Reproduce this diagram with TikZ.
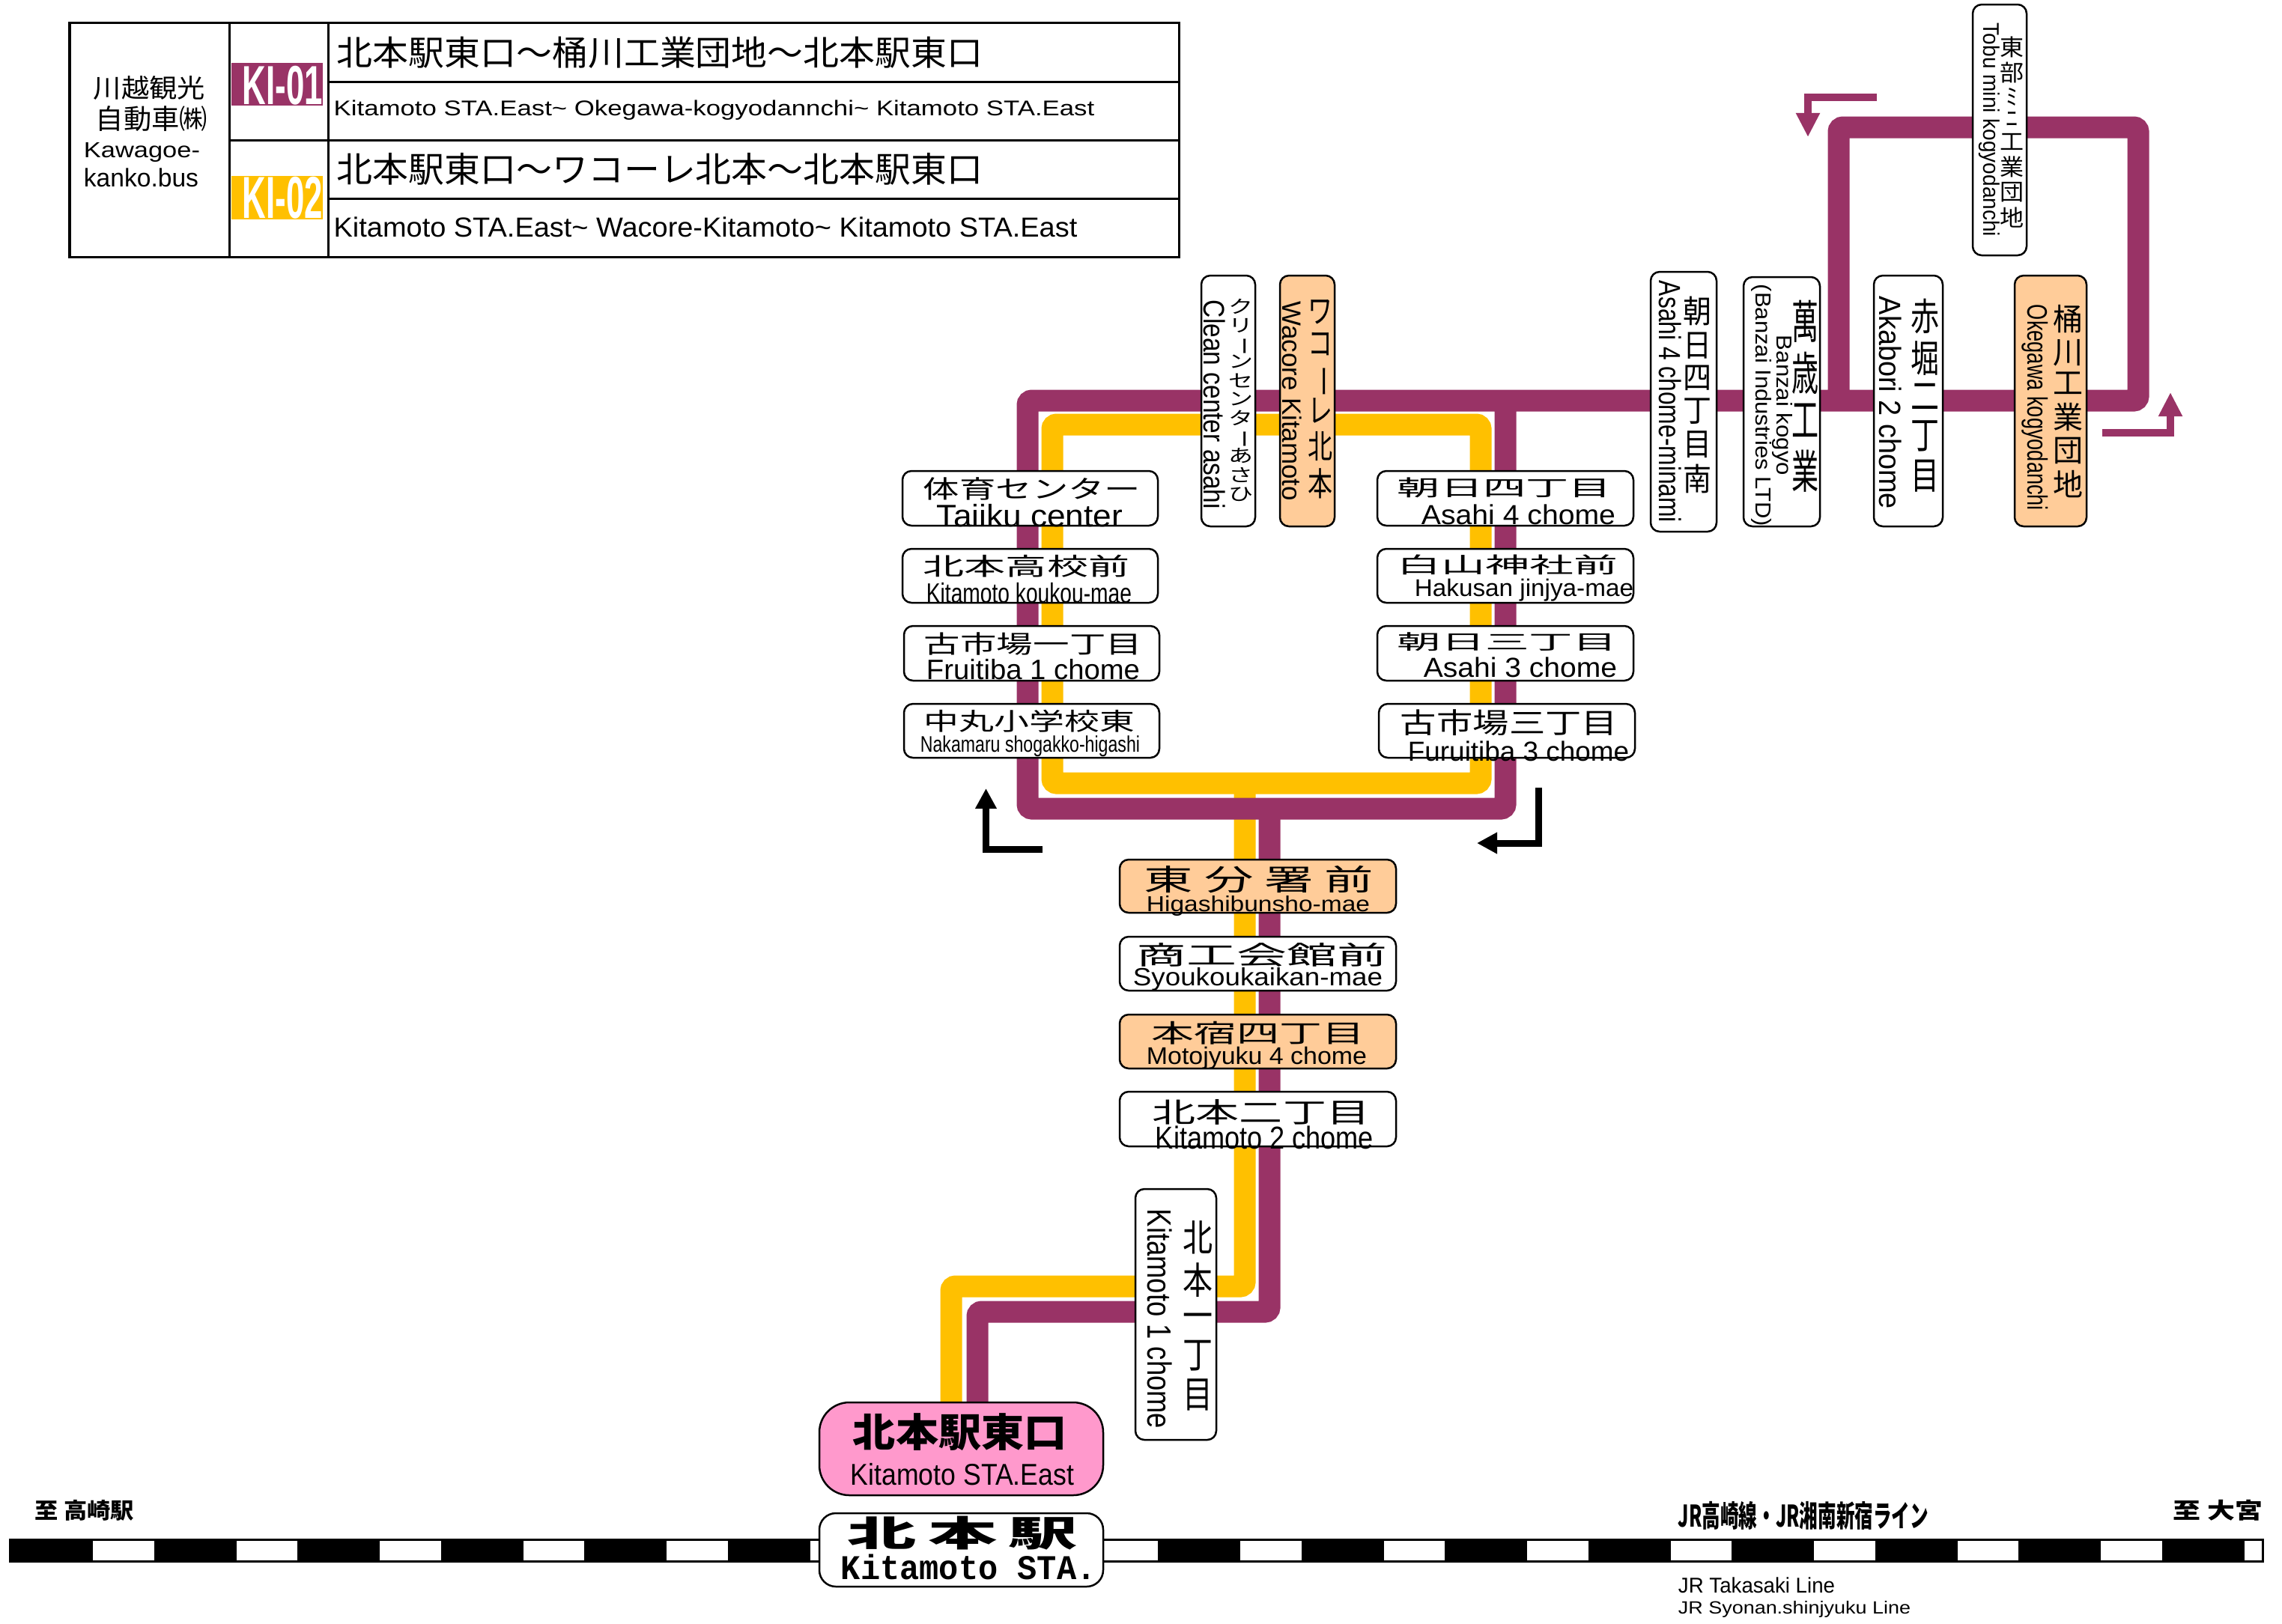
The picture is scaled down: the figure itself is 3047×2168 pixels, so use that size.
\documentclass[tikz,border=0pt]{standalone}
\usepackage{fontspec}
\usepackage{graphicx}
\setmainfont{Liberation Sans}
\newfontfamily\jpf{Noto Sans CJK JP}
\newfontfamily\monof{Liberation Mono}
\usetikzlibrary{arrows.meta}
\definecolor{kione}{HTML}{993366}
\definecolor{kitwo}{HTML}{FFC000}
\definecolor{peach}{HTML}{FFCC99}
\definecolor{stapink}{HTML}{FF99CC}
\newcommand{\pxu}{0.01cm}
\tikzset{wh/.style 2 args={minimum width=#1*\pxu,minimum height=#2*\pxu}}
\tikzstyle{stop} = [draw=black, line width=0.025cm, fill=white, rounded corners=0.12cm, inner sep=0pt]
\tikzstyle{stopmain} = [stop, fill=peach]
\tikzstyle{cell} = [draw=black, line width=0.03cm, inner sep=0pt]
\tikzstyle{fitted} = [inner sep=0pt, outer sep=0pt]
\tikzstyle{routeone} = [draw=kione, line width=0.29cm, rounded corners=0.06cm]
\tikzstyle{routetwo} = [draw=kitwo, line width=0.29cm, rounded corners=0.06cm]
\tikzstyle{arrowone} = [draw=kione, line width=0.1cm, -{Triangle[length=0.32cm,width=0.3cm]}]
\tikzstyle{arrowblk} = [draw=black, line width=0.09cm, -{Triangle[length=0.27cm,width=0.27cm]}]
% name, x from, x to, y from, y to, text
\newcommand{\fitlbl}[6]{%
  \pgfmathsetlengthmacro{\fitw}{(#3-#2)*0.284528pt}%
  \pgfmathsetlengthmacro{\fith}{(#5-#4)*0.284528pt}%
  \node[fitted] (#1) at ({(#2+#3)/2},{(#4+#5)/2}) {\resizebox*{\fitw}{\fith}{#6}};}
\newcommand{\vjp}[1]{{\jpf\renewcommand{\arraystretch}{0.8}\begin{tabular}{@{}c@{}}#1\end{tabular}}}
\newcommand{\vlat}[1]{\rotatebox{-90}{#1}}
\newcommand{\vbar}{\rotatebox[origin=c]{-90}{ー}}
\newcommand{\wave}{\textasciitilde}

\begin{document}
\begin{tikzpicture}[x=0.01cm,y=-0.01cm]
\useasboundingbox (0,0) rectangle (3047,2168);
% table
\node[cell,wh={213}{313}] (co) at (199.5,186.5) {};
\node[cell,wh={132}{157}] (kia) at (372,108.5) {};
\node[cell,wh={132}{156}] (kib) at (372,265) {};
\node[cell,wh={1136}{79}] (ra) at (1006,69.5) {};
\node[cell,wh={1136}{78}] (rb) at (1006,148) {};
\node[cell,wh={1136}{78}] (rc) at (1006,226) {};
\node[cell,wh={1136}{78}] (rd) at (1006,304) {};
\fill[kione] (309,84) rectangle (431,141);
\fill[kitwo] (309,235) rectangle (431,293);
\fitlbl{coa}{125}{274}{102}{134}{\jpf 川越観光}
\fitlbl{cob}{128}{277}{142}{176}{\jpf 自動車㈱}
\fitlbl{coc}{112}{267}{191}{217}{Kawagoe-}
\fitlbl{cod}{112}{265}{225}{250}{kanko.bus}
\fitlbl{kiatxt}{324}{431}{88}{140}{\color{white}\bfseries KI-01}
\fitlbl{kibtxt}{324}{431}{236}{292}{\color{white}\bfseries KI-02}
\fitlbl{ratxt}{450}{1312}{48.5}{91}{\jpf 北本駅東口～桶川工業団地～北本駅東口}
\fitlbl{rbtxt}{446}{1461}{134}{160.5}{Kitamoto STA.East\wave{} Okegawa-kogyodannchi\wave{} Kitamoto STA.East}
\fitlbl{rctxt}{450}{1312}{204}{247}{\jpf 北本駅東口～ワコーレ北本～北本駅東口}
\fitlbl{rdtxt}{446}{1438}{290}{317}{Kitamoto STA.East\wave{} Wacore-Kitamoto\wave{} Kitamoto STA.East}
% track
\draw[line width=0.03cm] (14,2056) rectangle (3021,2085);
\foreach \k in {0,...,15}
  \fill ({14+191.5*\k},2056) rectangle ({124+191.5*\k},2085);
% bends of the routes
\coordinate (ya) at (1270,1873);
\coordinate (yb) at (1270,1718);
\coordinate (yc) at (1662,1718);
\coordinate (yd) at (1662,1046);
\coordinate (ye) at (1405,1046);
\coordinate (yf) at (1405,567);
\coordinate (yg) at (1977,567);
\coordinate (yh) at (1977,1046);
\coordinate (pa) at (1305,1873);
\coordinate (pb) at (1305,1752);
\coordinate (pc) at (1695,1752);
\coordinate (pd) at (1695,1080);
\coordinate (pe) at (1372,1080);
\coordinate (pf) at (1372,535);
\coordinate (pg) at (2855,535);
\coordinate (ph) at (2855,170);
\coordinate (pi) at (2455,170);
\coordinate (pj) at (2455,535);
\coordinate (pk) at (2010,1080);
\coordinate (pl) at (2010,535);
\draw[routetwo] (ya) -- (yb) -- (yc) -- (yd);
\draw[routetwo] (yd) -- (ye) -- (yf) -- (yg) -- (yh) -- (yd);
\draw[routeone] (pa) -- (pb) -- (pc) -- (pd);
\draw[routeone] (pl) -- (pk) -- (pe) -- (pf) -- (pg) -- (ph) -- (pi) -- (pj);
% arrows
\coordinate (aa) at (2506,130);
\coordinate (ab) at (2414,130);
\coordinate (ac) at (2414,183);
\coordinate (ad) at (2807,578);
\coordinate (ae) at (2898,578);
\coordinate (af) at (2898,524);
\coordinate (ag) at (1392,1134.5);
\coordinate (ah) at (1316.5,1134.5);
\coordinate (ai) at (1316.5,1053);
\coordinate (aj) at (2054,1052);
\coordinate (ak) at (2054,1126);
\coordinate (al) at (1972,1126);
\draw[arrowone] (aa) -- (ab) -- (ac);
\draw[arrowone] (ad) -- (ae) -- (af);
\draw[arrowblk] (ag) -- (ah) -- (ai);
\draw[arrowblk] (aj) -- (ak) -- (al);
% left column
\node[stop,wh={341}{73}] (taiiku) at (1375.5,665.5) {};
\node[stop,wh={341}{72}] (koukou) at (1375.5,769) {};
\node[stop,wh={341}{73}] (fruione) at (1377.5,872.5) {};
\node[stop,wh={341}{72}] (nakamaru) at (1377.5,976) {};
\fitlbl{taiikuj}{1233}{1523}{637.5}{668}{\jpf 体育センター}
\fitlbl{taiikul}{1251}{1499}{673.5}{704}{Taiiku center}
\fitlbl{koukouj}{1233}{1508}{741}{771}{\jpf 北本高校前}
\fitlbl{koukoul}{1237}{1511}{778}{805.5}{Kitamoto koukou-mae}
\fitlbl{fruionej}{1234}{1525}{845}{875.5}{\jpf 古市場一丁目}
\fitlbl{fruionel}{1237}{1522}{880.5}{908}{Fruitiba 1 chome}
\fitlbl{nakamaruj}{1234}{1515}{948}{978}{\jpf 中丸小学校東}
\fitlbl{nakamarul}{1229}{1522}{983}{1011}{Nakamaru shogakko-higashi}
% right column
\node[stop,wh={342}{73}] (asafour) at (2010,665.5) {};
\node[stop,wh={342}{72}] (hakusan) at (2010,769) {};
\node[stop,wh={342}{73}] (asathree) at (2010,872.5) {};
\node[stop,wh={342}{72}] (furuthree) at (2012,976) {};
\fitlbl{asafourj}{1866}{2152}{638}{665}{\jpf 朝日四丁目}
\fitlbl{asafourl}{1898}{2157}{673.5}{700.5}{Asahi 4 chome}
\fitlbl{hakusanj}{1866}{2160}{741}{768}{\jpf 白山神社前}
\fitlbl{hakusanl}{1889}{2181}{773}{803}{Hakusan jinjya-mae}
\fitlbl{asathreej}{1866}{2159}{845}{870}{\jpf 朝日三丁目}
\fitlbl{asathreel}{1901}{2159}{878}{905}{Asahi 3 chome}
\fitlbl{furuthreej}{1870}{2160}{948}{983}{\jpf 古市場三丁目}
\fitlbl{furuthreel}{1880}{2175}{990}{1017}{Furuitiba 3 chome}
% centre column
\node[stopmain,wh={369}{71}] (higashi) at (1679.5,1183.5) {};
\node[stop,wh={369}{72}] (shoko) at (1679.5,1287) {};
\node[stopmain,wh={369}{72}] (motofour) at (1679.5,1391) {};
\node[stop,wh={369}{73}] (kitatwo) at (1679.5,1494.5) {};
\fitlbl{higashij}{1528}{1834}{1156.5}{1193}{\jpf 東\ 分\ 署\ 前}
\fitlbl{higashil}{1531}{1829}{1196}{1223}{Higashibunsho-mae}
\fitlbl{shokoj}{1517.5}{1852}{1259}{1291}{\jpf 商工会館前}
\fitlbl{shokol}{1513}{1846}{1292}{1323}{Syoukoukaikan-mae}
\fitlbl{motofourj}{1537.5}{1822}{1364}{1395}{\jpf 本宿四丁目}
\fitlbl{motofourl}{1531}{1825}{1398}{1428}{Motojyuku 4 chome}
\fitlbl{kitatwoj}{1539}{1829}{1468}{1502}{\jpf 北本二丁目}
\fitlbl{kitatwol}{1543}{1834}{1504}{1535}{Kitamoto 2 chome}
% upright boxes
\node[stop,wh={108}{335}] (kitaone) at (1570,1755.5) {};
\fitlbl{kitaonej}{1579}{1619}{1631}{1895}{\vjp{北\\本\\一\\丁\\目}}
\fitlbl{kitaonel}{1532}{1565}{1615}{1908}{\vlat{Kitamoto 1 chome}}
\node[stop,wh={72}{335}] (clean) at (1640,535.5) {};
\fitlbl{cleanj}{1640}{1673}{399}{675}{\vjp{ク\\リ\\\vbar\\ン\\セ\\ン\\タ\\\vbar\\あ\\さ\\ひ}}
\fitlbl{cleanl}{1607}{1636}{401}{680}{\vlat{Clean center asahi}}
\node[stopmain,wh={73}{335}] (wacore) at (1745.5,535.5) {};
\fitlbl{wacorej}{1746}{1779}{401}{675}{\vjp{ワ\\コ\\\vbar\\レ\\北\\本}}
\fitlbl{wacorel}{1712}{1738}{402.5}{669}{\vlat{Wacore Kitamoto}}
\node[stop,wh={88}{347}] (asaminami) at (2248,536.5) {};
\fitlbl{asaminamij}{2247}{2285}{396}{668}{\vjp{朝\\日\\四\\丁\\目\\南}}
\fitlbl{asaminamil}{2215}{2245}{375}{698}{\vlat{Asahi 4 chome-minami}}
\node[stop,wh={102}{333}] (banzai) at (2379,536.5) {};
\fitlbl{banzaij}{2392}{2428}{401}{670}{\vjp{萬\\歳\\工\\業}}
\fitlbl{banzail}{2366}{2393}{448}{635}{\vlat{Banzai kogyo}}
\fitlbl{banzaim}{2338}{2365}{380}{703}{\vlat{(Banzai Industries LTD)}}
\node[stop,wh={92}{335}] (akabori) at (2548,535.5) {};
\fitlbl{akaborij}{2551}{2589}{399}{668}{\vjp{赤\\堀\\二\\丁\\目}}
\fitlbl{akaboril}{2509}{2539}{396}{680}{\vlat{Akabori 2 chome}}
\node[stopmain,wh={96}{335}] (okegawa) at (2738,535.5) {};
\fitlbl{okegawaj}{2741}{2781}{407}{674}{\vjp{桶\\川\\工\\業\\団\\地}}
\fitlbl{okegawal}{2700}{2735}{407}{682}{\vlat{Okegawa kogyodanchi}}
\node[stop,wh={72}{335}] (tobu) at (2670,173.5) {};
\fitlbl{tobuj}{2670}{2702}{49}{311}{\vjp{東\\部\\ﾐ\\ﾆ\\工\\業\\団\\地}}
\fitlbl{tobul}{2642}{2670}{31}{316}{\vlat{Tobu mini kogyodanchi}}
% stations
\node[stop,fill=stapink,rounded corners=0.4cm,wh={379}{124}] (east) at (1283.5,1935) {};
\fitlbl{eastj}{1139}{1424.5}{1888}{1938}{\jpf\bfseries 北本駅東口}
\fitlbl{eastl}{1136}{1434}{1954.5}{1984}{Kitamoto STA.East}
\node[stop,rounded corners=0.22cm,wh={379}{98}] (sta) at (1283.5,2070) {};
\fitlbl{staj}{1132}{1439}{2025}{2070}{\jpf\bfseries 北\,本\,駅}
\fitlbl{stal}{1123}{1463.5}{2076}{2110}{\monof\bfseries Kitamoto STA.}
% line names
\fitlbl{takaj}{47}{179}{2003}{2031}{\jpf\bfseries 至 高崎駅}
\fitlbl{omiyaj}{2902}{3021}{2003}{2031}{\jpf\bfseries 至 大宮}
\fitlbl{linej}{2241}{2575}{2005}{2043}{\jpf\bfseries JR高崎線・JR湘南新宿ライン}
\fitlbl{linea}{2241}{2450}{2107}{2128}{JR Takasaki Line}
\fitlbl{lineb}{2241}{2551}{2138}{2160}{JR Syonan.shinjyuku Line}
\end{tikzpicture}
\end{document}
